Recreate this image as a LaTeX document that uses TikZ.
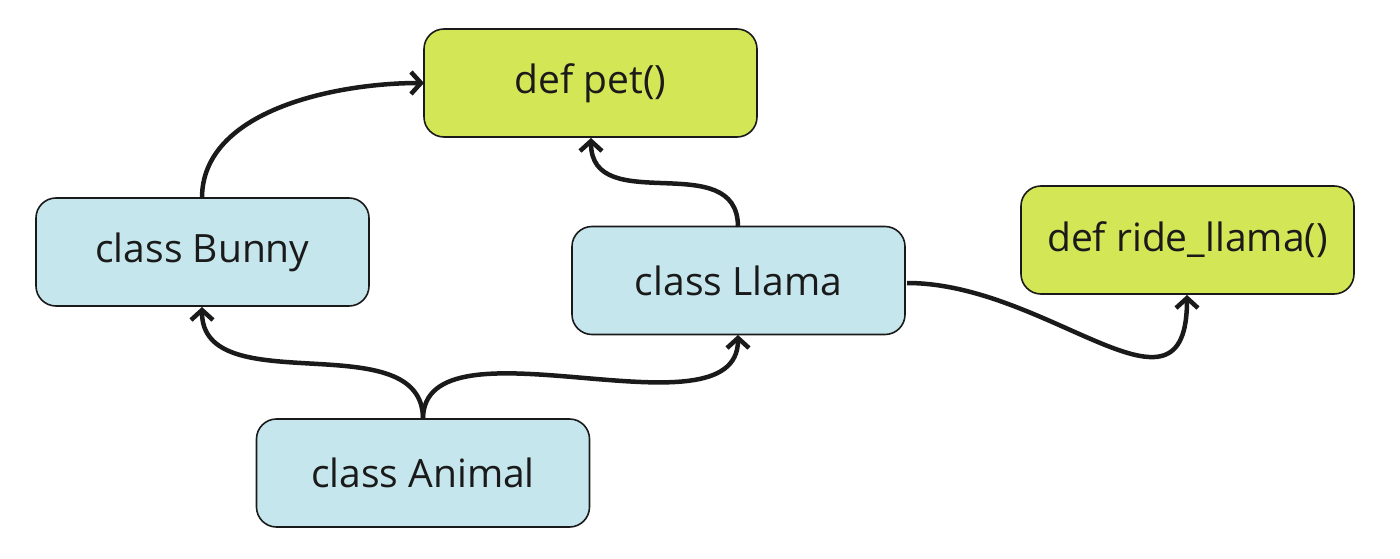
\documentclass[tikz,border=0pt]{standalone}
\usepackage{fontspec}
\setmainfont{Open Sans}
\usetikzlibrary{arrows.meta}
\definecolor{boxblue}{HTML}{C5E6EC}
\definecolor{boxgreen}{HTML}{D3E655}
\definecolor{edge}{HTML}{1A1A1A}
\tikzset{
  box/.style={draw=edge, line width=1.6pt, rounded corners=20pt, minimum width=333pt, minimum height=108pt, inner sep=0pt, font=\fontsize{39}{46}\selectfont, text=edge},
  classbox/.style={box, fill=boxblue},
  defbox/.style={box, fill=boxgreen},
  link/.style={draw=edge, line width=4.5pt, -{Straight Barb[length=10pt,width=22pt,line width=4.5pt]}}
}
\begin{document}
\begin{tikzpicture}[x=1pt,y=-1pt]
\useasboundingbox (0,0) rectangle (1400,559);
\node[defbox] (pet) at (590.5,83) {def pet()};
\node[classbox] (bunny) at (202.5,252) {class Bunny};
\node[classbox] (llama) at (738.5,280.5) {class Llama};
\node[defbox] (ride) at (1187.5,240) {def ride\_llama()};
\node[classbox] (animal) at (423,473) {class Animal};
\coordinate (bunnyTop) at (202,198);
\coordinate (petLeft) at (424,83);
\coordinate (llamaTop) at (738,227);
\coordinate (petBot) at (591,138);
\coordinate (animalTop) at (423,419);
\coordinate (bunnyBot) at (202,307);
\coordinate (llamaBot) at (738,335);
\coordinate (llamaRight) at (907,283);
\coordinate (rideBot) at (1187,295);
\draw[link] (bunnyTop) to[out=90,in=180,looseness=0.9] (petLeft);
\draw[link] (llamaTop) to[out=90,in=-90,looseness=1.2] (petBot);
\draw[link] (animalTop) to[out=90,in=-90,looseness=1.0] (bunnyBot);
\draw[link] (animalTop) to[out=90,in=-90,looseness=0.85] (llamaBot);
\draw[link] (llamaRight) to[out=0,in=-90,looseness=1.3] (rideBot);
\end{tikzpicture}
\end{document}
